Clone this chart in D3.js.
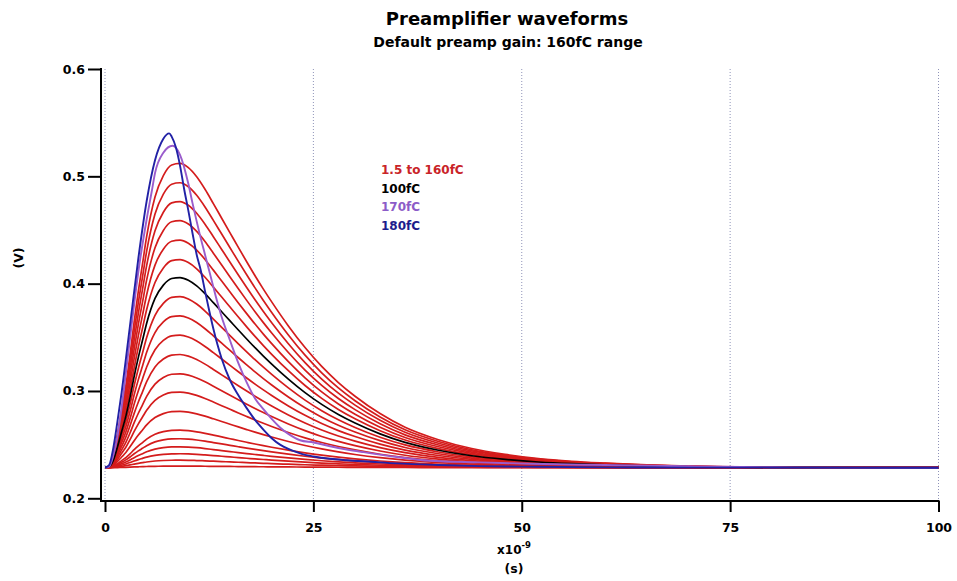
<!DOCTYPE html>
<html>
<head>
<meta charset="utf-8">
<style>
    body { margin: 0; background: #fff; }
    svg { font-family: 'DejaVu Sans', 'Liberation Sans', Arial, sans-serif; font-weight: bold; }
</style>
</head>
<body>
<svg width="957" height="581"></svg>

<script src="https://d3js.org/d3.v7.min.js"></script>
<script>
    // time axis (ns) and the normalised pulse shape
    const timeNs = [0, 0.5, 1, 1.5, 2, 2.5, 3, 3.5, 4, 4.5, 5, 6, 7, 8, 9, 10, 11, 12, 13, 14, 15, 16, 17, 18, 19, 20,
        22, 24, 26, 28, 30, 33, 36, 40, 44, 48, 52, 56, 60, 65, 70, 80, 90, 100]
    const pulseShape = [0, 0.005, 0.04, 0.11, 0.19, 0.27, 0.37, 0.48, 0.58, 0.67, 0.76, 0.89, 0.96, 0.995, 1.0, 0.986,
        0.956, 0.915, 0.868, 0.82, 0.772, 0.724, 0.677, 0.631, 0.587, 0.545, 0.466, 0.395, 0.333, 0.28, 0.235, 0.178,
        0.133, 0.092, 0.063, 0.044, 0.03, 0.021, 0.015, 0.009, 0.005, 0.002, 0.001, 0]

    const baselineV = 0.2285

    // peak voltage of each red trace (1.5 to 160fC)
    const redCharges = [1.5, 4, 7, 10, 15, 20, 30, 40, 50, 60, 70, 80, 90, 110, 120, 130, 140, 150, 160]
    const redPeakV = [0.230, 0.2355, 0.2415, 0.248, 0.2555, 0.2635, 0.281, 0.299, 0.316, 0.334, 0.352, 0.370, 0.388,
        0.4224, 0.4406, 0.4588, 0.4765, 0.494, 0.512]
    const blackPeakV = 0.4057 // 100fC

    // 170fC trace
    const purpleT = [0, 0.5, 1, 1.5, 2, 3, 4, 5, 5.6, 6, 7, 8.1, 9, 10, 10.5, 11, 11.4, 12, 13, 13.4, 14, 15, 16, 17,
        18, 19, 20, 21, 22, 23.4, 25, 27, 29, 31, 35, 39, 45, 51, 60, 70, 80, 90, 100]
    const purpleV = [0.2285, 0.2295, 0.240, 0.258, 0.285, 0.349, 0.411, 0.46, 0.4856, 0.503, 0.522, 0.5285, 0.52,
        0.493, 0.475, 0.458, 0.445, 0.427, 0.397, 0.385, 0.369, 0.347, 0.326, 0.308, 0.293, 0.283, 0.274, 0.266,
        0.260, 0.2541, 0.252, 0.2485, 0.2455, 0.243, 0.2385, 0.235, 0.2335, 0.2322, 0.231, 0.2298, 0.229, 0.2286,
        0.2285]

    // 180fC trace
    const blueT = [0, 0.5, 1, 1.5, 2, 3, 4, 5, 6, 7, 7.7, 8, 8.5, 9, 9.5, 10, 10.5, 11, 11.5, 12, 12.5, 13, 13.5, 14,
        15, 16, 17, 18, 19, 20, 21, 22, 23, 24, 25, 27, 29, 32, 35, 40, 45, 50, 60, 70, 100]
    const blueV = [0.2285, 0.231, 0.247, 0.272, 0.299, 0.361, 0.4235, 0.477, 0.515, 0.535, 0.540, 0.537, 0.527, 0.51,
        0.488, 0.468, 0.447, 0.427, 0.412, 0.393, 0.375, 0.358, 0.343, 0.33, 0.31, 0.296, 0.284, 0.273, 0.264, 0.256,
        0.25, 0.246, 0.243, 0.2405, 0.239, 0.2368, 0.2355, 0.234, 0.2325, 0.231, 0.230, 0.2295, 0.2288, 0.2286,
        0.2285]

    const legendLabels = ["1.5 to 160fC", "100fC", "170fC", "180fC"]
    const legendColors = ["#c92428", "#000000", "#8c5cc8", "#1c1c8c"]

    const xTicks = [0, 25, 50, 75, 100]
    const yTicks = [0.2, 0.3, 0.4, 0.5, 0.6]

    let svg = d3.select("svg")

    let x = d3.scaleLinear()
        .domain([0, 100])
        .range([105, 938.5])

    let y = d3.scaleLinear()
        .domain([0.2, 0.6])
        .range([498.3, 69])

    const axisY = 501   // x axis sits a little below 0.2
    const axisX = 101   // y axis sits a little left of t=0

    // dotted vertical grid
    svg.selectAll(".grid")
        .data(xTicks)
        .join("line")
        .attr("x1", d => x(d))
        .attr("x2", d => x(d))
        .attr("y1", y(0.6))
        .attr("y2", axisY)
        .style("stroke", "#8f93b8")
        .style("stroke-width", 1)
        .style("stroke-dasharray", "1,2")

    let line = d3.line()
        .x(d => x(d[0]))
        .y(d => y(d[1]))
        .curve(d3.curveMonotoneX)

    function scaled(peak) {
        return timeNs.map((t, i) => [t, baselineV + (peak - baselineV) * pulseShape[i]])
    }

    svg.selectAll(".red")
        .data(redPeakV)
        .join("path")
        .attr("class", "red")
        .attr("d", d => line(scaled(d)))
        .style("fill", "none")
        .style("stroke", "#d41c1c")
        .style("stroke-width", 1.7)

    svg.append("path")
        .attr("d", line(scaled(blackPeakV)))
        .style("fill", "none")
        .style("stroke", "#000")
        .style("stroke-width", 1.7)

    svg.append("path")
        .attr("d", line(purpleT.map((t, i) => [t, purpleV[i]])))
        .style("fill", "none")
        .style("stroke", "#9a5ccc")
        .style("stroke-width", 1.9)

    svg.append("path")
        .attr("d", line(blueT.map((t, i) => [t, blueV[i]])))
        .style("fill", "none")
        .style("stroke", "#2121a6")
        .style("stroke-width", 1.9)

    // axes
    let yAxis = svg.append("g")
        .attr("transform", `translate(${axisX},0)`)
        .call(d3.axisLeft(y).tickValues(yTicks).tickSize(13).tickPadding(3).tickFormat(d3.format(".1f")))
    yAxis.select(".domain").remove()

    let xAxis = svg.append("g")
        .attr("transform", `translate(0,${axisY})`)
        .call(d3.axisBottom(x).tickValues(xTicks).tickSize(11).tickPadding(11).tickFormat(d3.format("d")))
    xAxis.select(".domain").remove()

    svg.selectAll(".tick line").style("stroke", "#000").style("stroke-width", 2)
    svg.selectAll(".tick text")
        .style("font-family", "'DejaVu Sans', sans-serif")
        .style("font-weight", "bold")
        .style("font-size", "12.5px")
        .style("fill", "#000")

    svg.append("line")
        .attr("x1", axisX).attr("x2", axisX)
        .attr("y1", y(0.6) - 1).attr("y2", axisY + 1)
        .style("stroke", "#000").style("stroke-width", 2)

    svg.append("line")
        .attr("x1", axisX - 1).attr("x2", x(100) + 1)
        .attr("y1", axisY).attr("y2", axisY)
        .style("stroke", "#000").style("stroke-width", 2)

    // titles
    svg.append("text")
        .attr("x", 507).attr("y", 25)
        .attr("text-anchor", "middle")
        .style("font-size", "18px")
        .text("Preamplifier waveforms")

    svg.append("text")
        .attr("x", 508).attr("y", 47)
        .attr("text-anchor", "middle")
        .style("font-size", "14px")
        .text("Default preamp gain: 160fC range")

    // axis labels
    svg.append("text")
        .attr("transform", "translate(23,258) rotate(-90)")
        .attr("text-anchor", "middle")
        .style("font-size", "12.5px")
        .text("(V)")

    let xl = svg.append("text")
        .attr("x", 514).attr("y", 554)
        .attr("text-anchor", "middle")
        .style("font-size", "12px")
    xl.append("tspan").text("x10")
    xl.append("tspan").attr("dy", -6).style("font-size", "8.5px").text("-9")

    svg.append("text")
        .attr("x", 514).attr("y", 573)
        .attr("text-anchor", "middle")
        .style("font-size", "12.5px")
        .text("(s)")

    // legend
    svg.selectAll(".legend")
        .data(legendLabels)
        .join("text")
        .attr("class", "legend")
        .attr("x", 381)
        .attr("y", (d, i) => 174 + i * 18.5)
        .style("font-size", "12px")
        .style("fill", (d, i) => legendColors[i])
        .text(d => d)
</script>
</body>
</html>
